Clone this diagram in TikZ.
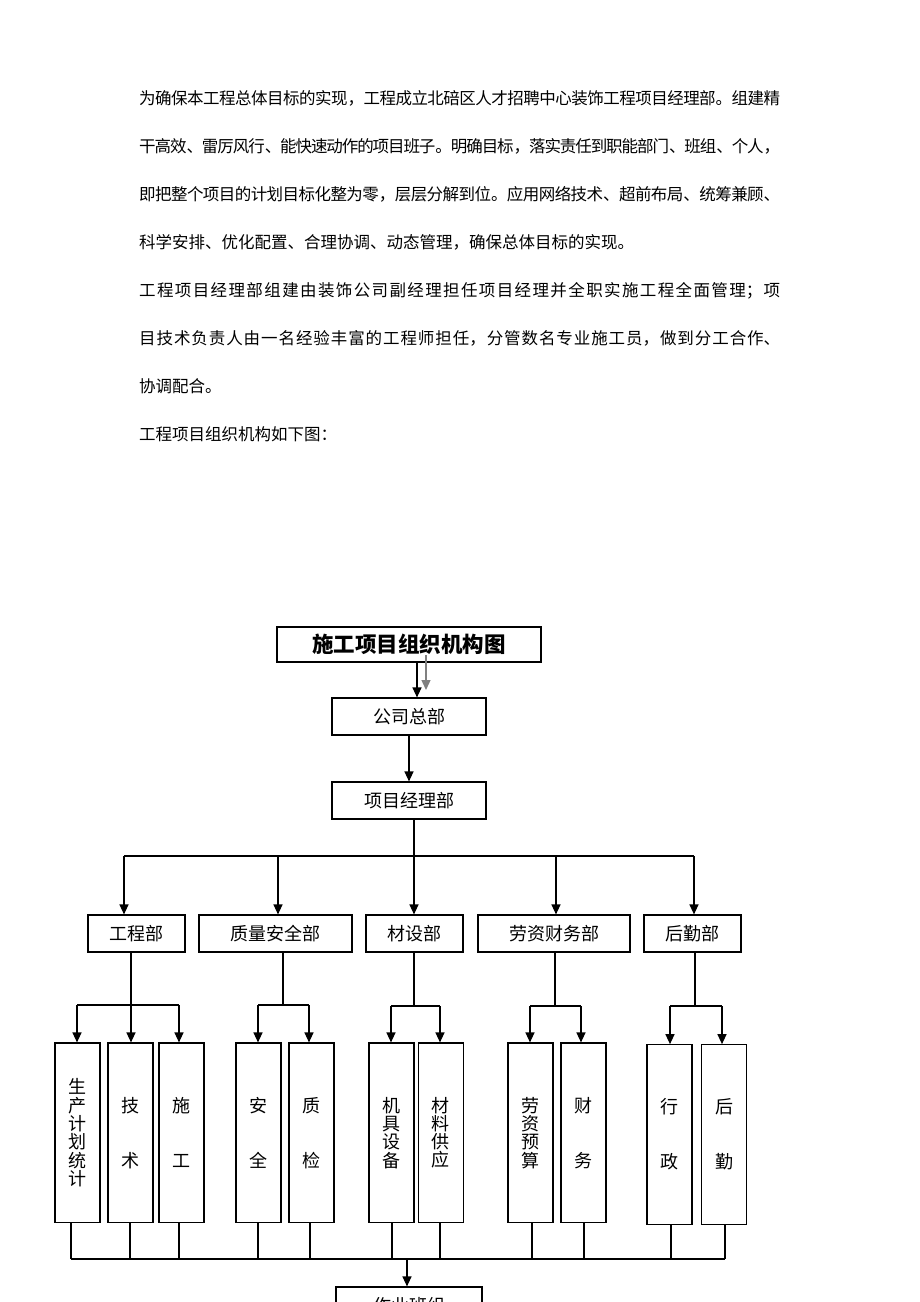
\documentclass[tikz,border=0pt]{standalone}
\usepackage{fontspec}
\setmainfont{Noto Sans CJK SC}
\usetikzlibrary{arrows.meta}
\XeTeXlinebreaklocale "zh"
\XeTeXlinebreakskip=0pt plus 3pt minus 1.6pt
\tikzset{
  box/.style={draw, line width=1.2pt, inner sep=0pt, minimum height=37pt, font=\fontsize{18}{20}\selectfont},
  tall/.style={draw, line width=1.2pt, inner sep=0pt, minimum width=45pt, minimum height=179.5pt, align=center},
  four/.style={tall, font=\fontsize{18}{18.3}\selectfont},
  two/.style={tall, font=\fontsize{18}{55}\selectfont},
  ln/.style={line width=1.3pt},
  arr/.style={line width=1.3pt, -{Triangle[length=10pt,width=9pt]}},
}
\begin{document}
\begin{tikzpicture}[x=1pt,y=-1pt]
\useasboundingbox (0,0) rectangle (920,1302);
\fill[white] (0,0) rectangle (920,1302);
\clip (0,0) rectangle (920,1302);

\node[anchor=base west, inner sep=0pt] (para) at (139,104) {\parbox[t]{641pt}{\fontsize{16.5}{48}\selectfont\parindent=0pt\parskip=0pt
为确保本工程总体目标的实现，工程成立北碚区人才招聘中心装饰工程项目经理部。组建精\linebreak
干高效、雷厉风行、能快速动作的项目班子。明确目标，落实责任到职能部门、班组、个人，\linebreak
即把整个项目的计划目标化整为零，层层分解到位。应用网络技术、超前布局、统筹兼顾、\linebreak
科学安排、优化配置、合理协调、动态管理，确保总体目标的实现。\par
工程项目经理部组建由装饰公司副经理担任项目经理并全职实施工程全面管理；项\linebreak
目技术负责人由一名经验丰富的工程师担任，分管数名专业施工员，做到分工合作、\linebreak
协调配合。\par
工程项目组织机构如下图：\par}};

% title and top levels
\node[draw, line width=1.2pt, minimum width=264pt, minimum height=35pt, inner sep=0pt, font=\fontsize{21.5}{24}\selectfont\bfseries] (title) at (409,644.5) {施工项目组织机构图};
\node[box, minimum width=154pt] (hq) at (409,716.5) {公司总部};
\node[box, minimum width=154pt] (pm) at (409,800.5) {项目经理部};

\draw[arr] (417,0 |- title.south) -- (417,0 |- hq.north);
\draw[arr, gray] (426,655) -- (426,690);
\draw[arr] (hq.south) -- (pm.north);

% second level
\node[box, minimum width=97pt] (gc) at (136.5,933.5) {工程部};
\node[box, minimum width=153pt] (zl) at (275.5,933.5) {质量安全部};
\node[box, minimum width=97pt] (cs) at (414.5,933.5) {材设部};
\node[box, minimum width=152pt] (lz) at (554,933.5) {劳资财务部};
\node[box, minimum width=97pt] (hh) at (692.5,933.5) {后勤部};

\coordinate (bar) at (0,856);
\draw[ln] (124,0 |- bar) -- (694,0 |- bar);
\draw[arr] (414,0 |- pm.south) -- (414,0 |- cs.north);
\draw[arr] (124,0 |- bar) -- (124,0 |- gc.north);
\draw[arr] (278,0 |- bar) -- (278,0 |- zl.north);
\draw[arr] (556,0 |- bar) -- (556,0 |- lz.north);
\draw[arr] (694,0 |- bar) -- (694,0 |- hh.north);

% third level
\node[four] (t1) at (77.5,1132.75) {生\\产\\计\\划\\统\\计};
\node[two] (t2) at (130.5,1132.75) {技\\术};
\node[two] (t3) at (181.5,1132.75) {施\\工};
\node[two] (t4) at (258.5,1132.75) {安\\全};
\node[two] (t5) at (311.5,1132.75) {质\\检};
\node[four] (t6) at (391.5,1132.75) {机\\具\\设\\备};
\node[four] (t7) at (440.75,1132.75) {材\\料\\供\\应};
\node[four] (t8) at (530.5,1132.75) {劳\\资\\预\\算};
\node[two] (t9) at (583.5,1132.75) {财\\务};
\node[two] (t10) at (669.5,1134.5) {行\\政};
\node[two] (t11) at (724,1134.5) {后\\勤};

% branches 工程部
\draw[ln] (131,0 |- gc.south) -- (131,1005);
\draw[ln] (77,1005) -- (179,1005);
\draw[arr] (77,1005) -- (77,0 |- t1.north);
\draw[arr] (131,1005) -- (131,0 |- t2.north);
\draw[arr] (179,1005) -- (179,0 |- t3.north);
% 质量安全部
\draw[ln] (283,0 |- zl.south) -- (283,1005);
\draw[ln] (258,1005) -- (309,1005);
\draw[arr] (258,1005) -- (258,0 |- t4.north);
\draw[arr] (309,1005) -- (309,0 |- t5.north);
% 材设部
\draw[ln] (414,0 |- cs.south) -- (414,1006);
\draw[ln] (391,1006) -- (440,1006);
\draw[arr] (391,1006) -- (391,0 |- t6.north);
\draw[arr] (440,1006) -- (440,0 |- t7.north);
% 劳资财务部
\draw[ln] (555,0 |- lz.south) -- (555,1006);
\draw[ln] (530,1006) -- (581,1006);
\draw[arr] (530,1006) -- (530,0 |- t8.north);
\draw[arr] (581,1006) -- (581,0 |- t9.north);
% 后勤部
\draw[ln] (695,0 |- hh.south) -- (695,1006);
\draw[ln] (670,1006) -- (722,1006);
\draw[arr] (670,1006) -- (670,0 |- t10.north);
\draw[arr] (722,1006) -- (722,0 |- t11.north);

% bottom (the reference page ends across this box)
\node[box, minimum width=146pt] (zy) at (409,1305.5) {作业班组};
\coordinate (bot) at (0,1259);
\draw[ln] (71,0 |- bot) -- (725,0 |- bot);
\foreach \n/\x in {t1/71,t2/130,t3/179,t4/258,t5/310,t6/392,t7/440,t8/532,t9/584,t10/671,t11/725}{
  \draw[ln] (\x,0 |- \n.south) -- (\x,0 |- bot);
}
\draw[arr] (407,0 |- bot) -- (407,0 |- zy.north);
\end{tikzpicture}
\end{document}
